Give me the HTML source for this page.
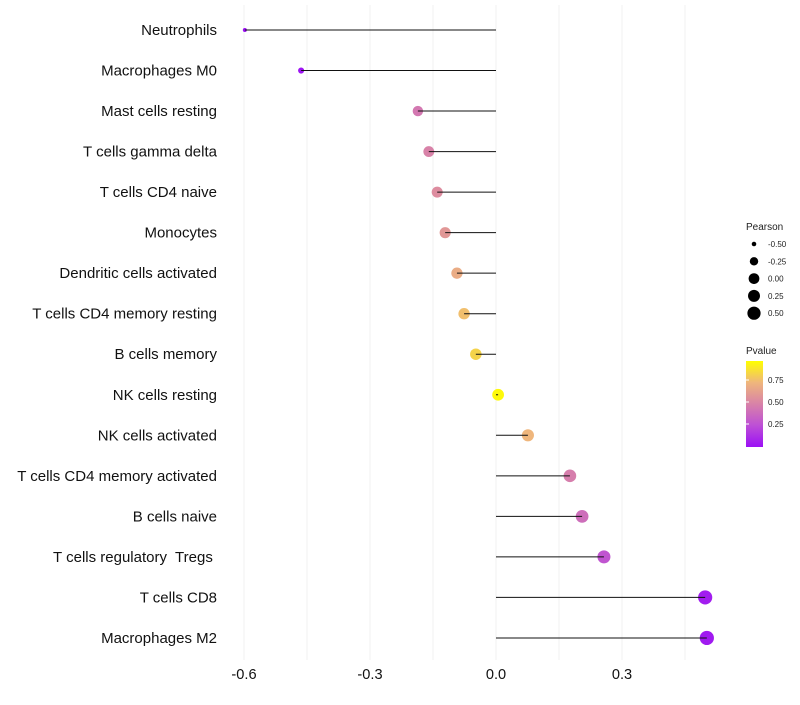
<!DOCTYPE html>
<html><head><meta charset="utf-8"><style>
body{margin:0;background:#fff;font-family:"Liberation Sans",sans-serif}
svg text{font-family:"Liberation Sans",sans-serif;white-space:pre}
</style></head><body>
<svg id="chart" width="800" height="700">
<defs><linearGradient id="pg" x1="0" y1="1" x2="0" y2="0">
<stop offset="0" stop-color="#9b10f5"/><stop offset="0.25" stop-color="#bd4fd6"/><stop offset="0.5" stop-color="#d882a8"/><stop offset="0.75" stop-color="#efb67c"/><stop offset="1" stop-color="#ffff00"/></linearGradient></defs>
<g id="grid"></g>
<g id="marks"></g>
<g id="ylabels"></g>
<g id="xlabels"></g>
<g>
<text x="746" y="230" font-size="10" fill="#222">Pearson</text>
<g id="sizeLeg"></g></g>
<g>
<text x="746" y="354" font-size="10" fill="#222">Pvalue</text>
<rect x="746" y="361" width="17" height="86" fill="url(#pg)"/>
<g id="colLeg"></g></g>
</svg>
<script>
const categories=["Neutrophils","Macrophages M0","Mast cells resting","T cells gamma delta","T cells CD4 naive","Monocytes","Dendritic cells activated","T cells CD4 memory resting","B cells memory","NK cells resting","NK cells activated","T cells CD4 memory activated","B cells naive","T cells regulatory  Tregs ","T cells CD8","Macrophages M2"];
const pearson=[-0.598,-0.464,-0.186,-0.16,-0.14,-0.121,-0.093,-0.076,-0.048,0.005,0.076,0.176,0.205,0.257,0.498,0.502];
const pvalue=[0.0,0.02,0.45,0.5,0.55,0.6,0.7,0.78,0.85,0.98,0.75,0.48,0.4,0.28,0.05,0.04];
const xTicks=[-0.6,-0.3,0.0,0.3];
const xTickLabels=["-0.6","-0.3","0.0","0.3"];
const gridVals=[-0.6,-0.45,-0.3,-0.15,0,0.15,0.3,0.45];
const sizeLegVals=[-0.5,-0.25,0,0.25,0.5];
const colLegVals=[0.25,0.5,0.75];
const NS="http://www.w3.org/2000/svg";
const x=v=>496+v*420;
const y=i=>30+i*40.53;
const r=v=>v<-0.15?2+(v+0.6)/0.45*3.5:5.5+(v+0.15)/0.65*1.6;
const stops=[[0,[155,16,245]],[0.25,[189,79,214]],[0.5,[216,130,168]],[0.75,[239,182,124]],[1,[255,255,0]]];
function col(p){for(let k=1;k<stops.length;k++){if(p<=stops[k][0]){const a=stops[k-1],b=stops[k],t=(p-a[0])/(b[0]-a[0]);return "rgb("+a[1].map((c,j)=>Math.round(c+(b[1][j]-c)*t)).join(",")+")";}}return "rgb(255,255,0)";}
function mk(tag,at,par){const e=document.createElementNS(NS,tag);for(const k in at)e.setAttribute(k,at[k]);document.getElementById(par).appendChild(e);return e;}
gridVals.forEach(g=>{const l=mk("line",{x1:x(g),x2:x(g),y1:5,y2:660,stroke:"#f0f0f0","stroke-width":1},"grid");

});
categories.forEach((c,i)=>{
const t=mk("text",{x:217,y:y(i)+5,"text-anchor":"end","font-size":15,fill:"#111"},"ylabels");t.textContent=c;


const d=mk("circle",{cx:x(pearson[i]),cy:y(i),r:r(pearson[i]),fill:col(pvalue[i])},"marks");


const s=mk("line",{x1:x(0),x2:x(pearson[i]),y1:y(i),y2:y(i),stroke:"#111","stroke-width":1},"marks");


});
xTicks.forEach((v,i)=>{const t=mk("text",{x:x(v),y:679,"text-anchor":"middle","font-size":14.6,fill:"#111"},"xlabels");t.textContent=xTickLabels[i];

});
sizeLegVals.forEach((v,i)=>{const cy=244+i*17.3;
const c=mk("circle",{cx:754,cy:cy,r:r(v)-0.5,fill:"#000"},"sizeLeg");


const t=mk("text",{x:768,y:cy+3,"font-size":8,fill:"#222"},"sizeLeg");t.textContent=v.toFixed(2);

});
colLegVals.forEach(v=>{const cy=446-v*88;
const t=mk("text",{x:768,y:cy+3,"font-size":8,fill:"#222"},"colLeg");t.textContent=v.toFixed(2);


const l=mk("line",{x1:746,x2:749,y1:cy,y2:cy,stroke:"#fff"},"colLeg");

});
</script>
</body></html>
